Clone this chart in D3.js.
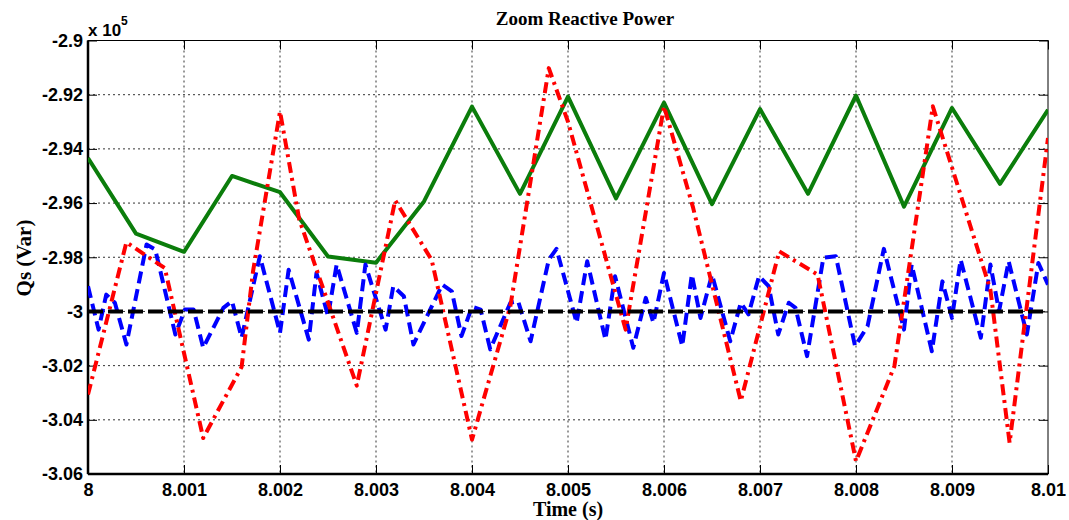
<!DOCTYPE html>
<html>
<head>
<meta charset="utf-8">
<script src="https://cdn.jsdelivr.net/npm/d3@7"></script>
<style>
	body { margin: 0; background: #fff; }
	.tick text { font-family: "Liberation Sans", Arial, sans-serif; font-weight: bold; font-size: 18px; fill: #000; }
</style>
</head>
<body>
<div id="chart"></div>
<script>
// values are in units of 1e5 Var
const xTicks = [8, 8.001, 8.002, 8.003, 8.004, 8.005, 8.006, 8.007, 8.008, 8.009, 8.01];
const yTicks = [-2.9, -2.92, -2.94, -2.96, -2.98, -3, -3.02, -3.04, -3.06];

// reference line
const refTime = [8, 8.01];
const refQ = [-3, -3];

// green solid
const greenTime = [8, 8.0005, 8.001, 8.0015, 8.002, 8.0025, 8.003, 8.0035, 8.004, 8.0045, 8.005,
	8.0055, 8.006, 8.0065, 8.007, 8.0075, 8.008, 8.0085, 8.009, 8.0095, 8.01];
const greenQ = [-2.9434, -2.9713, -2.978, -2.950, -2.956, -2.9797, -2.982, -2.9594, -2.9244, -2.9566, -2.9207,
	-2.9583, -2.9229, -2.9604, -2.9253, -2.9566, -2.9203, -2.9613, -2.9249, -2.9529, -2.9256];

// red dash-dot
const redTime = [8, 8.0004, 8.0008, 8.0012, 8.0016, 8.00172, 8.002, 8.0022, 8.0028, 8.0032, 8.00358,
	8.004, 8.0044, 8.0048, 8.005, 8.0056, 8.006, 8.0063, 8.0068, 8.0072, 8.0076, 8.008, 8.0084,
	8.0088, 8.0094, 8.0096, 8.01];
const redQ = [-3.0307, -2.9745, -2.984, -3.0467, -3.0205, -2.985, -2.9262, -2.966, -3.0274, -2.959, -2.981,
	-3.0473, -2.998, -2.9102, -2.930, -3.0067, -2.9243, -2.9613, -3.0331, -2.9778, -2.9864, -3.0553, -3.0202,
	-2.9243, -2.992, -3.0485, -2.936];

// blue dashed
const blueTime = [8, 8.00011, 8.00019, 8.00028, 8.0004, 8.00061, 8.0007, 8.00091, 8.00101, 8.0011,
	8.0012, 8.00141, 8.0015, 8.0016, 8.00179, 8.002, 8.00209, 8.0023, 8.00238, 8.0025,
	8.00259, 8.0028, 8.00289, 8.0031, 8.00318, 8.00329, 8.00339, 8.00369, 8.00379, 8.00389,
	8.004, 8.00409, 8.00419, 8.0044, 8.00448, 8.00461, 8.0048, 8.00488, 8.00509, 8.0052,
	8.00539, 8.00549, 8.00568, 8.00581, 8.00589, 8.006, 8.00619, 8.00629, 8.00638, 8.0065,
	8.00669, 8.0068, 8.00688, 8.00699, 8.00709, 8.00719, 8.0073, 8.00737, 8.00749, 8.00766,
	8.00779, 8.00799, 8.00812, 8.00829, 8.0085, 8.00858, 8.00879, 8.0089, 8.009, 8.00909,
	8.0093, 8.0094, 8.00949, 8.00959, 8.00978, 8.0099, 8.01];
const blueQ = [-2.9907, -3.0067, -2.9938, -2.9968, -3.0122, -2.9753, -2.9771, -3.0085, -2.9993, -2.9993,
	-3.0134, -2.9987, -2.9962, -3.0097, -2.9796, -3.0079, -2.9846, -3.0104, -2.9858, -3.0018,
	-2.9827, -3.0079, -2.9827, -3.0067, -2.9907, -2.9944, -3.0122, -2.9901, -2.9926, -3.0091,
	-2.9983, -2.9993, -3.014, -2.9968, -2.9962, -3.011, -2.9809, -2.9769, -3.0042, -2.9815,
	-3.0104, -2.987, -3.0134, -2.995, -3.0042, -2.9858, -3.0128, -2.9864, -3.0024, -2.9864,
	-3.011, -2.9968, -3.0011, -2.987, -2.9907, -3.0085, -2.9968, -2.9987, -3.0165, -2.9802,
	-2.9796, -3.0128, -3.0055, -2.9769, -3.0067, -2.9827, -3.0147, -2.9889, -3.0024, -2.9809,
	-3.0097, -2.9827, -2.9999, -2.9815, -3.0085, -2.9821, -2.9901];

const W = 1069, H = 520;
const margin = { top: 40.5, right: 21, bottom: 46, left: 88 };
const width = W - margin.left - margin.right;
const height = H - margin.top - margin.bottom;

const svg = d3.select("#chart").append("svg")
	.attr("width", W)
	.attr("height", H);

const g = svg.append("g")
	.attr("transform", "translate(" + margin.left + "," + margin.top + ")");

const x = d3.scaleLinear().domain([8, 8.01]).range([0, width]);
const y = d3.scaleLinear().domain([-3.06, -2.9]).range([height, 0]);

const fmtX = (d) => String(+d.toFixed(3));
const fmtY = (d) => String(+d.toFixed(2));

// grid
g.append("g").selectAll("line")
	.data(xTicks.slice(1, -1))
	.enter().append("line")
	.attr("x1", (d) => x(d)).attr("x2", (d) => x(d))
	.attr("y1", 0).attr("y2", height)
	.attr("stroke", "#333").attr("stroke-width", 1).attr("stroke-dasharray", "2,3");
g.append("g").selectAll("line")
	.data(yTicks.slice(1, -1))
	.enter().append("line")
	.attr("y1", (d) => y(d)).attr("y2", (d) => y(d))
	.attr("x1", 0).attr("x2", width)
	.attr("stroke", "#333").attr("stroke-width", 1).attr("stroke-dasharray", "2,3");

// axes with inward ticks
g.append("g")
	.attr("transform", "translate(0," + height + ")")
	.call(d3.axisBottom(x).tickValues(xTicks).tickFormat(fmtX).tickSizeInner(-9).tickSizeOuter(0).tickPadding(9));
g.append("g")
	.call(d3.axisLeft(y).tickValues(yTicks).tickFormat(fmtY).tickSizeInner(-9).tickSizeOuter(0).tickPadding(5));
g.append("g")
	.call(d3.axisTop(x).tickValues(xTicks).tickFormat("").tickSizeInner(-9).tickSizeOuter(0));
g.append("g")
	.attr("transform", "translate(" + width + ",0)")
	.call(d3.axisRight(y).tickValues(yTicks).tickFormat("").tickSizeInner(-9).tickSizeOuter(0));
g.selectAll(".domain").remove();
g.selectAll(".tick line").attr("stroke", "#000").attr("stroke-width", 1);

// box
g.append("rect")
	.attr("width", width).attr("height", height)
	.attr("fill", "none").attr("stroke", "#000").attr("stroke-width", 1);
g.append("line").attr("x1", 0).attr("x2", 0).attr("y1", 0).attr("y2", height)
	.attr("stroke", "#000").attr("stroke-width", 2.5);
g.append("line").attr("x1", 0).attr("x2", width).attr("y1", height).attr("y2", height)
	.attr("stroke", "#000").attr("stroke-width", 2.5);

// series
const line = d3.line().x((d) => x(d[0])).y((d) => y(d[1]));
svg.append("clipPath").attr("id", "clip").append("rect")
	.attr("width", width).attr("height", height);

function drawSeries(times, vals, color, dash) {
	g.append("path")
		.datum(d3.zip(times, vals))
		.attr("clip-path", "url(#clip)")
		.attr("fill", "none")
		.attr("stroke", color)
		.attr("stroke-width", 4)
		.attr("stroke-linejoin", "round")
		.attr("stroke-dasharray", dash)
		.attr("d", line);
}

drawSeries(greenTime, greenQ, "#0b7d0b", null);
drawSeries(blueTime, blueQ, "#0000ff", "12,6");
drawSeries(redTime, redQ, "#ff0000", "11,5,3,5");
drawSeries(refTime, refQ, "#000000", "15,5");

// labels
svg.append("text")
	.attr("x", 585).attr("y", 25)
	.attr("text-anchor", "middle")
	.style("font-family", "'Liberation Serif', 'Times New Roman', serif")
	.style("font-weight", "bold").style("font-size", "19px")
	.text("Zoom Reactive Power");

svg.append("text")
	.attr("x", 568).attr("y", 516)
	.attr("text-anchor", "middle")
	.style("font-family", "'Liberation Serif', 'Times New Roman', serif")
	.style("font-weight", "bold").style("font-size", "20px")
	.text("Time (s)");

svg.append("text")
	.attr("transform", "translate(31,258) rotate(-90)")
	.attr("text-anchor", "middle")
	.style("font-family", "'Liberation Serif', 'Times New Roman', serif")
	.style("font-weight", "bold").style("font-size", "21px")
	.text("Qs (Var)");

const exp = svg.append("text")
	.attr("x", 88).attr("y", 36)
	.style("font-family", "'Liberation Sans', Arial, sans-serif")
	.style("font-weight", "bold").style("font-size", "17px");
exp.append("tspan").text("x 10");
exp.append("tspan").attr("dy", -11).style("font-size", "12px").text("5");
</script>
</body>
</html>
